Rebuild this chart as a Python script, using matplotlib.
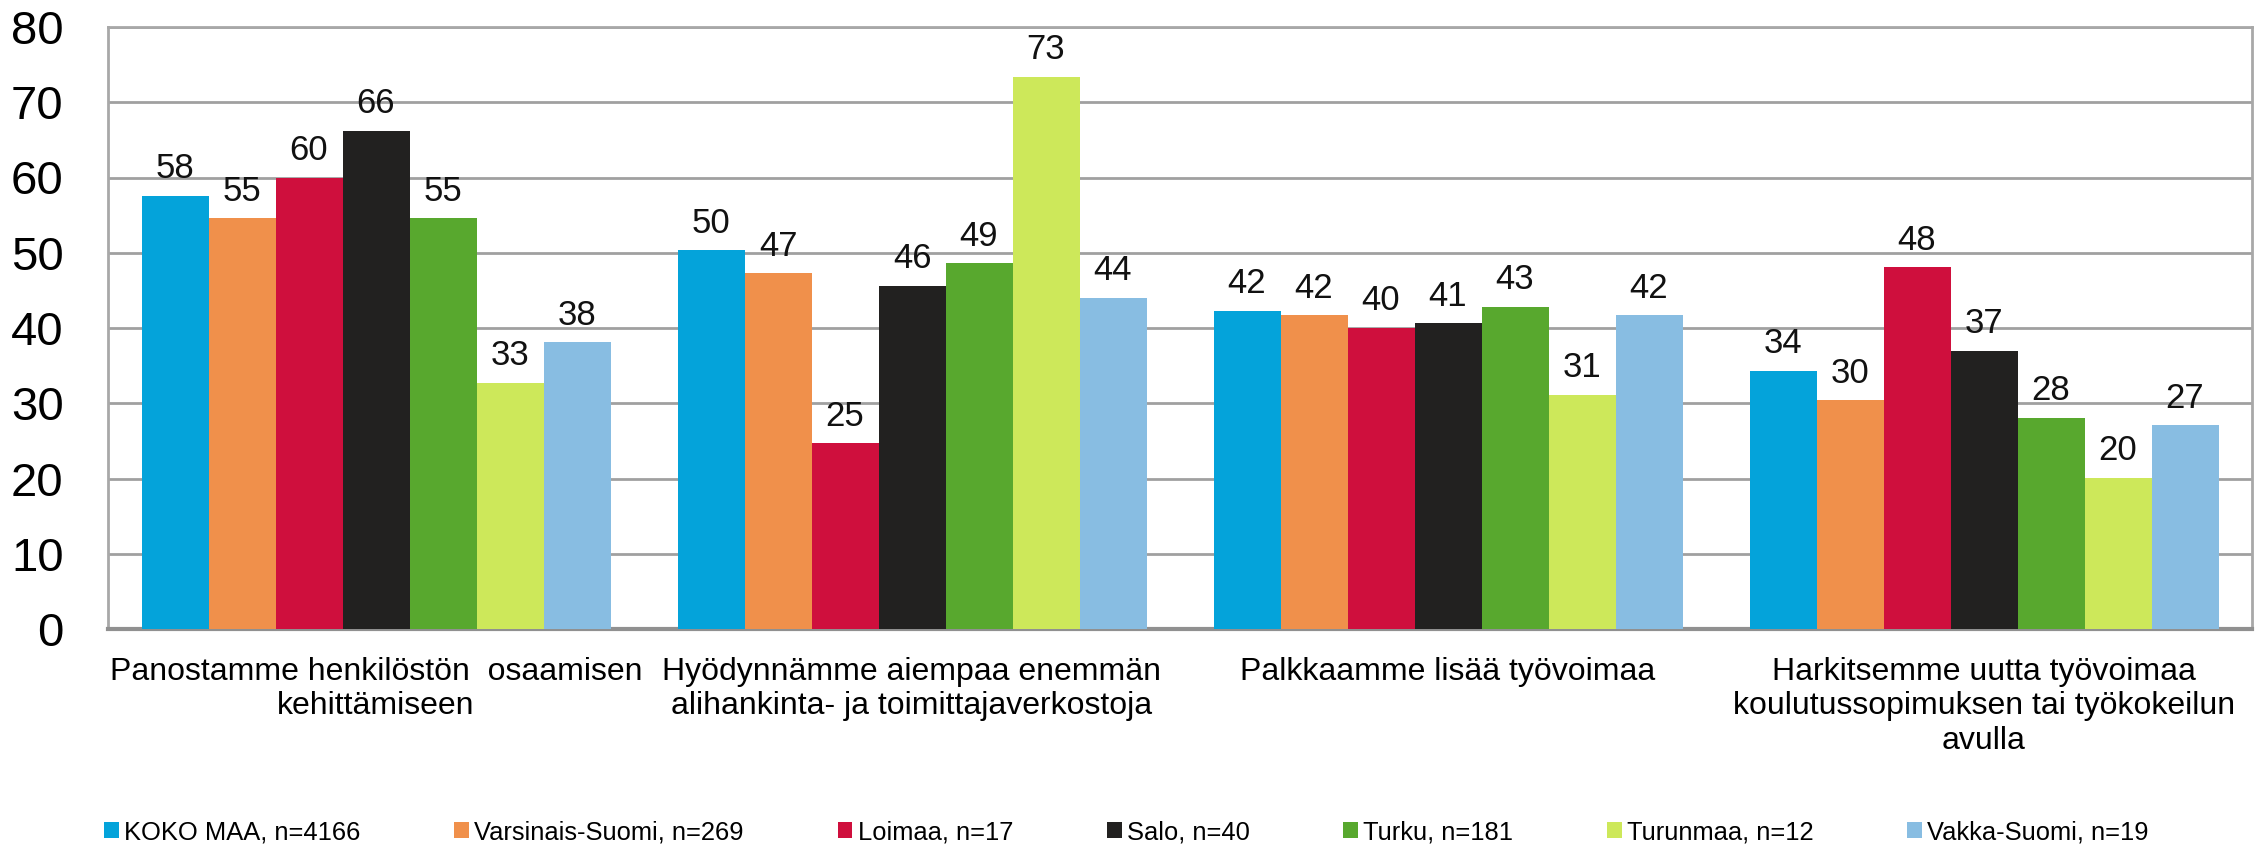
import matplotlib
matplotlib.use("Agg")
import matplotlib.pyplot as plt
import numpy as np

categories = [
    "Panostamme henkilöstön  osaamisen\nkehittämiseen",
    "Hyödynnämme aiempaa enemmän\nalihankinta- ja toimittajaverkostoja",
    "Palkkaamme lisää työvoimaa",
    "Harkitsemme uutta työvoimaa\nkoulutussopimuksen tai työkokeilun\navulla",
]
series = [
    "KOKO MAA, n=4166",
    "Varsinais-Suomi, n=269",
    "Loimaa, n=17",
    "Salo, n=40",
    "Turku, n=181",
    "Turunmaa, n=12",
    "Vakka-Suomi, n=19",
]
koko_maa = [57.6, 50.3, 42.3, 34.3]
varsinais_suomi = [54.6, 47.3, 41.7, 30.4]
loimaa = [60.0, 24.7, 40.0, 48.1]
salo = [66.2, 45.6, 40.6, 37.0]
turku = [54.6, 48.6, 42.8, 28.1]
turunmaa = [32.7, 73.4, 31.1, 20.1]
vakka_suomi = [38.1, 44.0, 41.7, 27.1]
values = [koko_maa, varsinais_suomi, loimaa, salo, turku, turunmaa, vakka_suomi]
colors = ["#04A3DA", "#F0904B", "#CF0F3D", "#222120", "#58A82E", "#CDE85A", "#88BDE2"]
yticks = [0, 10, 20, 30, 40, 50, 60, 70, 80]

plt.rcParams["font.family"] = ["Liberation Sans", "DejaVu Sans"]

fig = plt.figure(figsize=(22.6, 8.49), dpi=100)
ax = fig.add_axes([108 / 2260, 1 - 629 / 849, 2144 / 2260, 602 / 849])

x = np.arange(len(categories))
w = 0.125
for i, (vals, col, name) in enumerate(zip(values, colors, series)):
    bars = ax.bar(x + (i - 3) * w, vals, width=w, color=col, label=name, zorder=3,
                  edgecolor="none")
    for b, v in zip(bars, vals):
        ax.text(b.get_x() + b.get_width() / 2, v + 1.4, f"{round(v):d}",
                ha="center", va="bottom", fontsize=25, color="#111111", zorder=4)

ax.set_ylim(0, 80)
ax.set_xlim(-0.5, 3.5)
ax.set_yticks(yticks)
ax.set_yticklabels([str(t) for t in yticks], fontsize=34)
ax.tick_params(axis="y", length=0, pad=32)
ax.tick_params(axis="x", length=0, pad=20)
ax.set_xticks(x)
ax.set_xticklabels(categories, fontsize=23, linespacing=1.2)
ax.yaxis.grid(True, color="#A0A0A0", linewidth=2, zorder=0)
ax.set_axisbelow(True)
for s in ["left", "right", "top"]:
    ax.spines[s].set_color("#A8A8A8")
    ax.spines[s].set_linewidth(2)
ax.spines["bottom"].set_color("#909090")
ax.spines["bottom"].set_linewidth(3)

leg = fig.legend(loc="center", bbox_to_anchor=(0.4985, 0.02), ncol=7, frameon=False,
                 fontsize=18.4, handlelength=0.58, handleheight=0.58, handletextpad=0.2,
                 columnspacing=3.67, borderaxespad=0)

fig.savefig("out.png", dpi=100)
